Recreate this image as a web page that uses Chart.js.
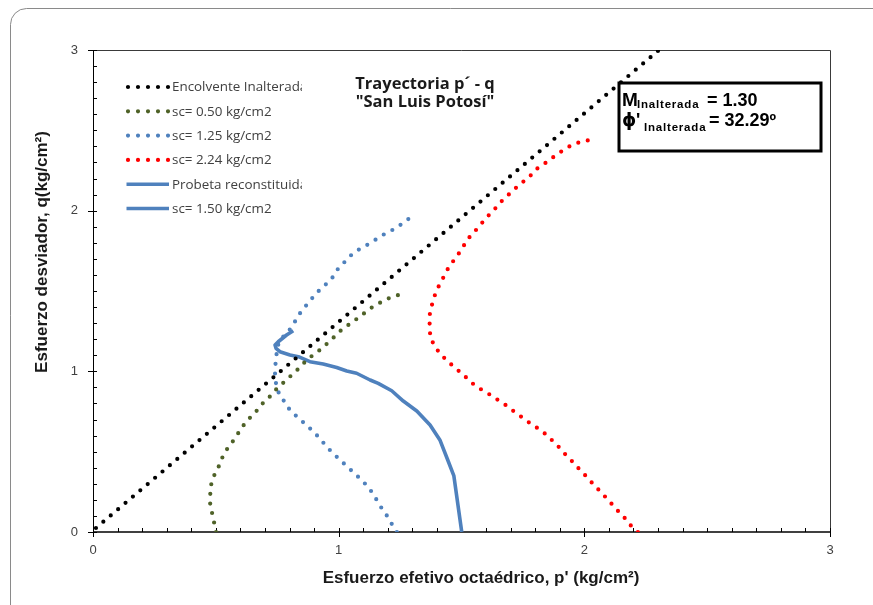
<!DOCTYPE html>
<html>
<head>
<meta charset="utf-8">
<script src="https://cdn.jsdelivr.net/npm/chart.js@4.4.1/dist/chart.umd.min.js"></script>
<style>
  html,body{margin:0;padding:0;background:#fff;}
  #wrap{width:873px;height:605px;position:relative;}
</style>
</head>
<body>
<div id="wrap"><canvas id="c" width="873" height="605"></canvas></div>
<script>
// ---------------- DATA ----------------
const seriesLabels = ["Encolvente Inalterada","sc= 0.50 kg/cm2","sc= 1.25 kg/cm2","sc= 2.24 kg/cm2","Probeta reconstituida","sc= 1.50 kg/cm2"];
const xTickValues = [0, 1, 2, 3];
const yTickValues = [0, 1, 2, 3];

// Envolvente (M = 1.30)
const envP = [0.012, 2.300];
const envQ = [0.025, 2.995];

// sc = 0.50
const s050P = [0.501,0.486,0.477,0.477,0.479,0.488,0.506,0.534,0.556,0.579,0.600,0.622,0.647,0.674,0.697,0.726,0.750,0.779,0.806,0.834,0.860,0.887,0.915,0.942,0.972,1.001,1.030,1.057,1.087,1.111,1.137,1.164,1.195,1.222,1.250,1.277];
const s050Q = [0.000,0.110,0.168,0.226,0.282,0.338,0.386,0.492,0.537,0.585,0.637,0.683,0.724,0.767,0.813,0.851,0.896,0.935,0.973,1.013,1.054,1.091,1.122,1.158,1.199,1.245,1.278,1.309,1.340,1.371,1.400,1.423,1.450,1.463,1.479,1.486];

// sc = 1.25
const s125P = [1.237,1.217,1.197,1.175,1.155,1.134,1.110,1.083,1.054,1.025,0.997,0.969,0.942,0.917,0.890,0.860,0.832,0.803,0.782,0.758,0.746,0.741,0.741,0.746,0.749,0.761,0.790,0.815,0.832,0.856,0.880,0.905,0.933,0.968,0.985,1.003,1.029,1.050,1.073,1.100,1.137,1.185,1.229,1.270,1.295];
const s125Q = [0.000,0.048,0.100,0.148,0.199,0.251,0.297,0.338,0.380,0.421,0.461,0.502,0.548,0.593,0.635,0.677,0.716,0.755,0.805,0.857,0.913,0.967,1.024,1.081,1.145,1.195,1.239,1.288,1.340,1.388,1.433,1.479,1.523,1.567,1.610,1.651,1.687,1.722,1.751,1.772,1.807,1.853,1.888,1.931,1.962];

// sc = 2.24
const s224P = [2.218,2.193,2.167,2.140,2.113,2.087,2.060,2.032,2.006,1.979,1.953,1.925,1.900,1.872,1.840,1.809,1.779,1.749,1.718,1.686,1.653,1.620,1.586,1.555,1.526,1.498,1.468,1.438,1.410,1.389,1.372,1.372,1.368,1.375,1.385,1.397,1.415,1.433,1.450,1.474,1.495,1.514,1.533,1.558,1.582,1.605,1.632,1.657,1.684,1.712,1.742,1.772,1.803,1.840,1.864,1.905,1.949,1.975,2.028];
const s224Q = [0.000,0.033,0.083,0.126,0.172,0.216,0.260,0.305,0.349,0.392,0.436,0.479,0.523,0.566,0.612,0.647,0.677,0.711,0.745,0.784,0.817,0.851,0.882,0.911,0.952,0.991,1.029,1.071,1.114,1.164,1.212,1.272,1.330,1.388,1.442,1.500,1.552,1.604,1.654,1.701,1.747,1.794,1.836,1.878,1.921,1.962,2.004,2.050,2.089,2.129,2.170,2.203,2.257,2.295,2.323,2.367,2.409,2.423,2.442];

// Probeta reconstituida (no points of its own)
const recP = [];
const recQ = [];

// sc = 1.50
const s150P = [1.501,1.469,1.444,1.412,1.372,1.318,1.263,1.216,1.161,1.128,1.073,1.033,0.992,0.937,0.883,0.836,0.802,0.761,0.745,0.741,0.754,0.788,0.815];
const s150Q = [0.000,0.349,0.448,0.573,0.666,0.753,0.815,0.879,0.925,0.946,0.988,1.002,1.024,1.046,1.060,1.091,1.102,1.122,1.143,1.164,1.184,1.226,1.253];

// ------------- helpers -------------
const pts = (xs, ys) => xs.map((x, i) => ({x: x, y: ys[i]}));
const isInt = v => Math.abs(v - Math.round(v)) < 1e-6;

const BLACK = '#000000', GREEN = '#4F6228', BLUE = '#4F81BD', RED = '#FF0000';
const DOT = [0, 9.7];

function dotted(label, data, color) {
  return {label, data, borderColor: color, backgroundColor: color, borderWidth: 4.2,
    borderDash: DOT, borderCapStyle: 'round', borderJoinStyle: 'round',
    showLine: true, pointRadius: 0, tension: 0, fill: false};
}
function solid(label, data, color) {
  return {label, data, borderColor: color, backgroundColor: color, borderWidth: 3.6,
    borderCapStyle: 'butt', borderJoinStyle: 'round',
    showLine: true, pointRadius: 0, tension: 0, fill: false};
}

const datasets = [
  dotted(seriesLabels[0], pts(envP, envQ), BLACK),
  dotted(seriesLabels[1], pts(s050P, s050Q), GREEN),
  dotted(seriesLabels[2], pts(s125P, s125Q), BLUE),
  dotted(seriesLabels[3], pts(s224P, s224Q), RED),
  solid(seriesLabels[4], pts(recP, recQ), BLUE),
  solid(seriesLabels[5], pts(s150P, s150Q), BLUE)
];

// ------------- overlay plugin -------------
const overlay = {
  id: 'overlay',
  beforeDraw(chart) {
    const ctx = chart.ctx;
    ctx.save();
    ctx.fillStyle = '#ffffff';
    ctx.fillRect(0, 0, chart.width, chart.height);
    ctx.strokeStyle = '#8a8a8a';
    ctx.lineWidth = 1;
    ctx.beginPath();
    ctx.roundRect(10.5, 8.5, 900, 640, 16);
    ctx.stroke();
    ctx.restore();
  },
  beforeDatasetsDraw(chart) {
    const ctx = chart.ctx, a = chart.chartArea;
    const xs = chart.scales.x, ys = chart.scales.y;
    ctx.save();
    ctx.strokeStyle = '#3a3a3a';
    ctx.lineWidth = 1;
    ctx.beginPath();
    ctx.moveTo(a.left, Math.round(a.top) + 0.5);
    ctx.lineTo(Math.round(a.right) + 0.5, Math.round(a.top) + 0.5);
    ctx.lineTo(Math.round(a.right) + 0.5, a.bottom);
    ctx.stroke();
    ctx.strokeStyle = '#000';
    ctx.lineWidth = 1.4;
    ctx.beginPath();
    ctx.moveTo(a.left, a.bottom); ctx.lineTo(a.right + 0.5, a.bottom);
    ctx.stroke();
    ctx.lineWidth = 1;
    ctx.beginPath();
    ctx.moveTo(Math.round(a.left) + 0.5, a.top); ctx.lineTo(Math.round(a.left) + 0.5, a.bottom);
    ctx.stroke();
    ctx.lineWidth = 1;
    ctx.strokeStyle = '#000';
    ctx.beginPath();
    xs.ticks.forEach(t => {
      const px = Math.round(xs.getPixelForValue(t.value)) + 0.5;
      const major = isInt(t.value);
      ctx.moveTo(px, a.bottom - 4);
      ctx.lineTo(px, a.bottom + (major ? 5 : 0));
    });
    ys.ticks.forEach(t => {
      const py = Math.round(ys.getPixelForValue(t.value)) + 0.5;
      const major = isInt(t.value);
      ctx.moveTo(a.left + 4, py);
      ctx.lineTo(a.left - (major ? 5 : 0), py);
    });
    ctx.stroke();
    ctx.restore();
  },
  afterDraw(chart) {
    const ctx = chart.ctx;
    ctx.save();
    // ---- legend ----
    ctx.save();
    ctx.beginPath();
    ctx.rect(115, 70, 187, 160);
    ctx.clip();
    const lx0 = 128, lx1 = 168, ly0 = 87, ldy = 24.3;
    chart.data.datasets.forEach((ds, i) => {
      const y = ly0 + i * ldy;
      ctx.save();
      ctx.strokeStyle = ds.borderColor;
      ctx.lineWidth = ds.borderWidth;
      ctx.lineCap = ds.borderDash ? 'round' : 'butt';
      if (ds.borderDash) ctx.setLineDash([0, 10]);
      ctx.beginPath();
      ctx.moveTo(ds.borderDash ? lx0 : lx0 - 1.5, y);
      ctx.lineTo(ds.borderDash ? lx1 + 0.5 : lx1 + 1, y);
      ctx.stroke();
      ctx.restore();
      ctx.fillStyle = '#404040';
      ctx.font = '13.4px "Open Sans"';
      ctx.textBaseline = 'middle';
      ctx.textAlign = 'left';
      ctx.fillText(ds.label, 172, y + 0.5);
    });
    ctx.restore();

    // ---- title ----
    ctx.fillStyle = '#1a1a1a';
    ctx.font = 'bold 16.5px "Open Sans"';
    ctx.textAlign = 'center';
    ctx.textBaseline = 'alphabetic';
    ctx.fillText('Trayectoria p\u00B4 - q', 425, 89);
    ctx.fillText('"San Luis Potos\u00ED"', 425, 107);

    // ---- annotation box ----
    ctx.strokeStyle = '#000';
    ctx.lineWidth = 3;
    ctx.strokeRect(619, 83, 202, 68);
    ctx.fillStyle = '#000';
    ctx.textAlign = 'left';
    ctx.font = 'bold 19px "Liberation Sans"';
    ctx.fillText('M', 622, 106);
    ctx.font = 'bold 11.5px "Liberation Sans"';
    ctx.letterSpacing = '0.8px';
    ctx.fillText('Inalterada', 637, 107.5);
    ctx.letterSpacing = '0px';
    ctx.font = 'bold 18px "Liberation Sans"';
    ctx.fillText('= 1.30', 707, 106);
    ctx.font = 'bold 18px "DejaVu Sans"';
    ctx.fillText('\u03D5', 622, 126);
    ctx.font = 'bold 18px "Liberation Sans"';
    ctx.fillText("'", 636, 126);
    ctx.font = 'bold 11.5px "Liberation Sans"';
    ctx.letterSpacing = '0.8px';
    ctx.fillText('Inalterada', 644, 130.5);
    ctx.letterSpacing = '0px';
    ctx.font = 'bold 18px "Liberation Sans"';
    ctx.fillText('= 32.29\u00BA', 709, 126);

    // ---- axis titles ----
    ctx.fillStyle = '#1a1a1a';
    ctx.font = 'bold 17px "Liberation Sans Narrow", "Liberation Sans"';
    ctx.textAlign = 'center';
    ctx.textBaseline = 'middle';
    ctx.fillText('Esfuerzo efetivo octa\u00E9drico, p\' (kg/cm\u00B2)', 481, 578);
    ctx.save();
    ctx.translate(42, 252);
    ctx.rotate(-Math.PI / 2);
    ctx.fillText('Esfuerzo desviador, q(kg/cm\u00B2)', 0, 0);
    ctx.restore();
    ctx.restore();
  }
};

new Chart(document.getElementById('c'), {
  type: 'scatter',
  data: {datasets},
  options: {
    responsive: false,
    animation: false,
    devicePixelRatio: 1,
    layout: {padding: {left: 10, right: 43, top: 50, bottom: 10}},
    plugins: {legend: {display: false}, tooltip: {enabled: false}, title: {display: false}},
    scales: {
      x: {
        type: 'linear', min: 0, max: 3,
        afterFit: s => { s.height = 63; },
        grid: {display: false}, border: {display: false},
        ticks: {stepSize: 0.1, autoSkip: false, maxRotation: 0, padding: 3,
          color: '#404040', font: {family: 'Liberation Sans', size: 13},
          callback: v => (xTickValues.some(t => Math.abs(t - v) < 1e-6) ? String(Math.round(v)) : '')}
      },
      y: {
        type: 'linear', min: 0, max: 3,
        afterFit: s => { s.width = 83; },
        grid: {display: false}, border: {display: false},
        ticks: {stepSize: 0.1, autoSkip: false, padding: 7,
          color: '#404040', font: {family: 'Liberation Sans', size: 13},
          callback: v => (yTickValues.some(t => Math.abs(t - v) < 1e-6) ? String(Math.round(v)) : '')}
      }
    }
  },
  plugins: [overlay]
});
</script>
</body>
</html>
